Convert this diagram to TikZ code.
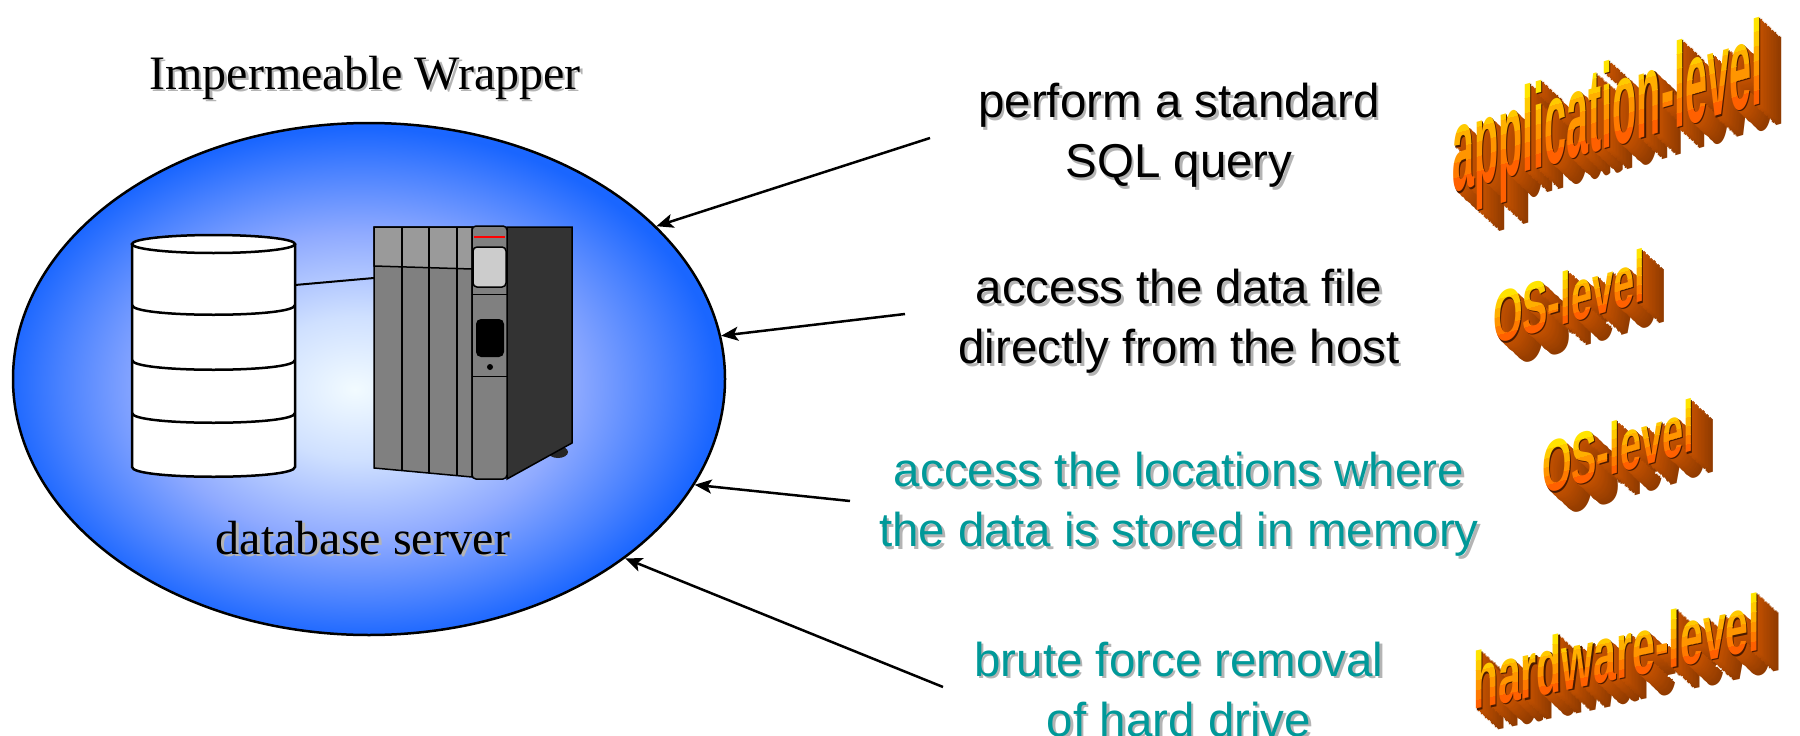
\documentclass[tikz,border=0pt]{standalone}
\usepackage{fontspec}
\setmainfont{Liberation Serif}
\setsansfont{Liberation Sans}
\newfontfamily\wafont{Liberation Sans}
\usetikzlibrary{shapes.geometric}
\usetikzlibrary{arrows.meta}

\definecolor{wrapedge}{HTML}{1A66FF}
\definecolor{glowcore}{HTML}{F2FBFF}
\definecolor{glowinner}{HTML}{CFE0FF}
\definecolor{glowmid}{HTML}{8FAAFF}
\definecolor{glowouter}{HTML}{4A82FF}
\definecolor{txtshadow}{HTML}{B4B4B4}
\definecolor{tealtxt}{RGB}{0,153,153}
\definecolor{slotgray}{HTML}{808080}
\definecolor{slottop}{HTML}{9A9A9A}
\definecolor{dispgray}{HTML}{CCCCCC}
\definecolor{sidedark}{HTML}{333333}
\definecolor{watop}{HTML}{FFE400}
\definecolor{wabottom}{HTML}{FF6000}
\definecolor{exnear}{HTML}{C65200}
\definecolor{exdeep}{HTML}{8E3A00}
\definecolor{exrim}{HTML}{4A1A00}

\pgfdeclareradialshading{wrapglow}{\pgfpoint{-1bp}{-1bp}}{%
  color(0bp)=(glowcore); color(7bp)=(glowinner); color(15bp)=(glowmid);
  color(21bp)=(glowouter); color(25bp)=(wrapedge); color(50bp)=(wrapedge)}

% text with a soft drop shadow
\newcommand{\shlabel}[4]{%
  \node[#3,text=txtshadow] (#1s) at ([shift={(2.5,2.5)}]#2) {#4};
  \node[#3] (#1) at (#2) {#4};}

% extruded word art: name, x, y (left end of baseline), slope, xscale, size, text
\newcommand{\wordart}[7]{%
  \pgfmathsetmacro\waH{0.74*#6}
  \foreach \k in {16,...,2}{
    \pgfmathtruncatemacro\ep{\k*6}
    \node[waglyph,yslant=#4,xscale=#5,font=\wafont\bfseries\fontsize{#6}{#6}\selectfont,
      text=exdeep!\ep!exnear] (#1d\k) at (#2+\k*1.4,#3+\k*1.3) {#7};
  }
  \node[waglyph,yslant=#4,xscale=#5,font=\wafont\bfseries\fontsize{#6}{#6}\selectfont,
    text=exrim] (#1r) at (#2+1.2,#3+1.1) {#7};
  \foreach \i in {0,...,5}{
    \pgfmathtruncatemacro\pc{\i*20}
    \pgfmathsetmacro\hA{\i==0 ? -40 : \i*\waH/6}
    \pgfmathsetmacro\hB{\i==5 ? \waH+40 : (\i+1)*\waH/6}
    \pgfmathsetmacro\xl{#2-20}
    \pgfmathsetmacro\xr{#2+420}
    \pgfmathsetmacro\yla{#3+20*#4-\hA}
    \pgfmathsetmacro\ylb{#3+20*#4-\hB}
    \pgfmathsetmacro\yra{#3-420*#4-\hA}
    \pgfmathsetmacro\yrb{#3-420*#4-\hB}
    \begin{scope}
      \clip (\xl,\yla) -- (\xr,\yra) -- (\xr,\yrb) -- (\xl,\ylb) -- cycle;
      \node[waglyph,yslant=#4,xscale=#5,font=\wafont\bfseries\fontsize{#6}{#6}\selectfont,
        text=watop!\pc!wabottom] (#1f\i) at (#2,#3) {#7};
    \end{scope}
  }}

\begin{document}
\begin{tikzpicture}[
  x=1pt,y=-1pt,
  >={Stealth[length=17pt,width=14pt,inset=4pt]},
  wrapnode/.style={ellipse,draw,line width=2.5pt,minimum width=712pt,minimum height=512pt,
    inner sep=0pt,shade,shading=wrapglow},
  serif/.style={font=\rmfamily\fontsize{48}{58}\selectfont,inner sep=0pt,anchor=base},
  lbl/.style={font=\sffamily\fontsize{47.5}{60}\selectfont,align=center,inner sep=0pt},
  lblteal/.style={lbl,text=tealtxt},
  waglyph/.style={anchor=base west,inner sep=0pt},
  arr/.style={->,line width=2.5pt},
  edge/.style={line width=1.5pt}
]
  \useasboundingbox (0,0) rectangle (1800,736);

  % the wrapper
  \node[wrapnode] (wrapper) at (369,379) {};
  \shlabel{title}{365,89}{serif}{Impermeable Wrapper}
  \shlabel{dbname}{363,554}{serif}{database server}

  % database cylinder
  \draw[fill=white,line width=2.5pt] (132,244) -- (132,467)
    .. controls (132,480) and (295,480) .. (295,467) -- (295,244);
  \draw[fill=white,line width=2.5pt] (213.5,244) ellipse[x radius=81.5,y radius=9];
  \foreach \by in {305,360,413}
    \draw[line width=2.5pt] (132,\by) .. controls (132,\by+13) and (295,\by+13) .. (295,\by);
  \coordinate (dbport) at (295,285);
  \coordinate (srvport) at (374,278);
  \draw[line width=2pt] (dbport) -- (srvport);

  % server cabinet
  \draw[edge,fill=slotgray] (374,227) -- (472,227) -- (472,477) -- (374,468) -- cycle;
  \draw[edge,fill=slottop] (374,227) -- (472,227) -- (472,269) -- (374,266) -- cycle;
  \foreach \sx in {402,429,457}
    \draw[edge] (\sx,227) -- (\sx,{468+(\sx-374)*9/98});
  \fill[black!85] (558,452) ellipse[x radius=10,y radius=6];
  \draw[edge,fill=sidedark] (507,227) -- (572,227) -- (572,443) -- (507,479) -- cycle;
  \draw[edge,fill=slotgray,rounded corners=4pt] (472,226) rectangle (507,479);
  \draw[red,line width=2pt] (474,237) -- (505,237);
  \draw[edge,fill=dispgray,rounded corners=4pt] (473,247) rectangle (506,287);
  \draw[line width=1pt] (472,294) -- (507,294);
  \draw[line width=1pt] (472,376) -- (507,376);
  \fill[rounded corners=5pt] (476,319) rectangle (504,357);
  \fill (490,367) circle[radius=3];

  % attacks
  \shlabel{sql}{1179,135.5}{lbl}{perform a standard\\SQL query}
  \shlabel{file}{1179,321.5}{lbl}{access the data file\\directly from the host}
  \shlabel{mem}{1179,504.5}{lblteal}{access the locations where\\the data is stored in memory}
  \shlabel{disk}{1179,689.5}{lblteal}{brute force removal\\of hard drive}

  \coordinate (t1) at (930,138);
  \coordinate (t2) at (905,314);
  \coordinate (t3) at (850,501);
  \coordinate (t4) at (943,687);
  \draw[arr] (t1) -- (wrapper.28);
  \draw[arr] (t2) -- (wrapper.7);
  \draw[arr] (t3) -- (wrapper.-18);
  \draw[arr] (t4) -- (wrapper.-35);

  % levels
  \wordart{app}{1452}{193}{0.29}{0.33}{120}{application-level}
  \wordart{osa}{1493}{345}{0.29}{0.52}{73}{OS-level}
  \wordart{osb}{1542}{495}{0.29}{0.52}{73}{OS-level}
  \wordart{hw}{1473}{710}{0.21}{0.512}{80}{hardware-level}
\end{tikzpicture}
\end{document}
